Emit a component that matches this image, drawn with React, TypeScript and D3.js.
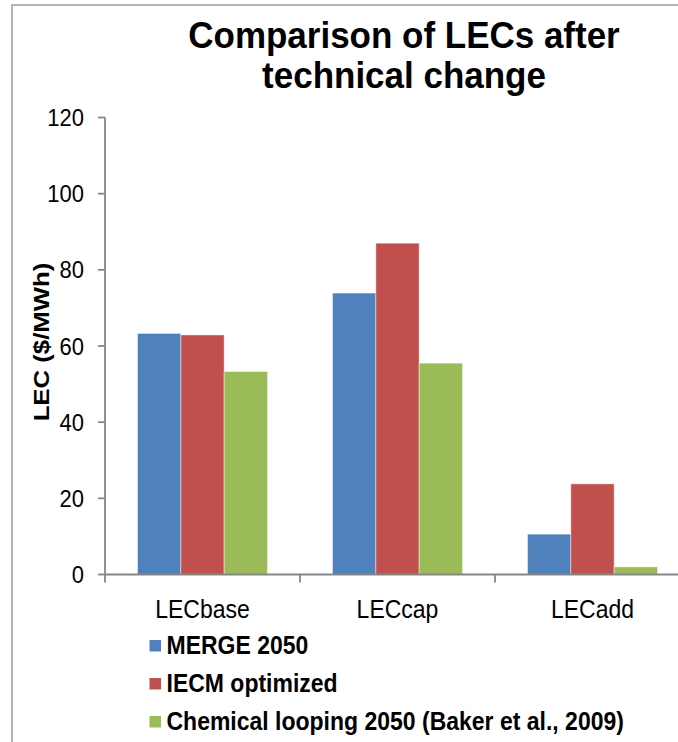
import React from "react";
import * as d3 from "d3";

const categories = ["LECbase", "LECcap", "LECadd"];
const seriesNames = ["MERGE 2050", "IECM optimized", "Chemical looping 2050 (Baker et al., 2009)"];
const merge2050 = [63.3, 73.9, 10.6];
const iecmOptimized = [62.9, 87.0, 23.8];
const chemicalLooping = [53.3, 55.5, 2.0];
const yTicks = [0, 20, 40, 60, 80, 100, 120];
const colors = ["#4F81BD", "#C0504D", "#9BBB59"];
const titleLines = ["Comparison of LECs after", "technical change"];

const W = 678;
const H = 742;
const FONT = "'Liberation Sans', Arial, Helvetica, sans-serif";
const SY = 1.12; // vertical stretch of the text
const TSY = 1.04;

export default function App() {
  const series = [merge2050, iecmOptimized, chemicalLooping];
  const x0 = 105;
  const x1 = 690;
  const yTop = 117.5;
  const yBot = 574.5;

  const x = d3.scaleBand<string>().domain(categories).range([x0, x1]).paddingInner(0).paddingOuter(0);
  const bw = x.bandwidth();
  const barW = bw / 4.5;
  const offset = (bw - 3 * barW) / 2;
  const y = d3.scaleLinear().domain([0, 120]).range([yBot, yTop]);
  const axisColor = "#868686";

  const legendY = [654, 692, 730];
  const tr = (tx: number, ty: number, s = SY) => `translate(${tx},${ty}) scale(1,${s})`;

  return (
    <svg width={W} height={H} style={{ position: "absolute", left: 0, top: 0, background: "#fff" }} fontFamily={FONT}>
      <rect x={0} y={0} width={W} height={H} fill="#fff" />
      {/* frame */}
      <rect x={12} y={5} width={W + 20} height={H + 20} fill="none" stroke="#9a9a9a" strokeWidth={1.5} />

      {/* title */}
      <text transform={tr(404, 47.5, TSY)} textAnchor="middle" fontSize={35} fontWeight="bold" fill="#000">
        {titleLines[0]}
      </text>
      <text transform={tr(404, 88, TSY)} textAnchor="middle" fontSize={35} fontWeight="bold" fill="#000">
        {titleLines[1]}
      </text>

      {/* bars */}
      {categories.map((c, i) => (
        <g key={c}>
          {series.map((s, j) => (
            <rect
              key={j}
              x={(x(c) as number) + offset + j * barW}
              y={y(s[i])}
              width={barW}
              height={yBot - y(s[i])}
              fill={colors[j]}
              stroke="rgba(255,255,255,0.45)"
              strokeWidth={1}
            />
          ))}
        </g>
      ))}

      {/* y axis */}
      <line x1={x0} x2={x0} y1={yTop} y2={yBot} stroke={axisColor} strokeWidth={1.8} />
      {yTicks.map((t) => (
        <g key={t}>
          <line x1={x0 - 7} x2={x0} y1={y(t)} y2={y(t)} stroke={axisColor} strokeWidth={1.8} />
          <text transform={tr(84, y(t) + 8.5)} textAnchor="end" fontSize={22} fill="#000">
            {t}
          </text>
        </g>
      ))}

      {/* x axis */}
      <line x1={x0} x2={x1} y1={yBot} y2={yBot} stroke={axisColor} strokeWidth={1.8} />
      {categories.map((c) => (
        <line key={c} x1={x(c) as number} x2={x(c) as number} y1={yBot} y2={yBot + 8} stroke={axisColor} strokeWidth={1.8} />
      ))}
      <line x1={x1} x2={x1} y1={yBot} y2={yBot + 8} stroke={axisColor} strokeWidth={1.8} />
      {categories.map((c) => (
        <text key={c} transform={tr((x(c) as number) + bw / 2, 618)} textAnchor="middle" fontSize={23} fill="#000">
          {c}
        </text>
      ))}

      {/* y axis title */}
      <text
        transform={`translate(49, 342) rotate(-90) scale(${SY},1)`}
        textAnchor="middle"
        fontSize={23}
        fontWeight="bold"
        fill="#000"
      >
        LEC ($/MWh)
      </text>

      {/* legend */}
      {seriesNames.map((n, j) => (
        <g key={n}>
          <rect x={149.5} y={legendY[j] - 14} width={11.5} height={11.5} fill={colors[j]} />
          <text transform={tr(166.5, legendY[j])} fontSize={23} fontWeight="bold" fill="#000">
            {n}
          </text>
        </g>
      ))}
    </svg>
  );
}
